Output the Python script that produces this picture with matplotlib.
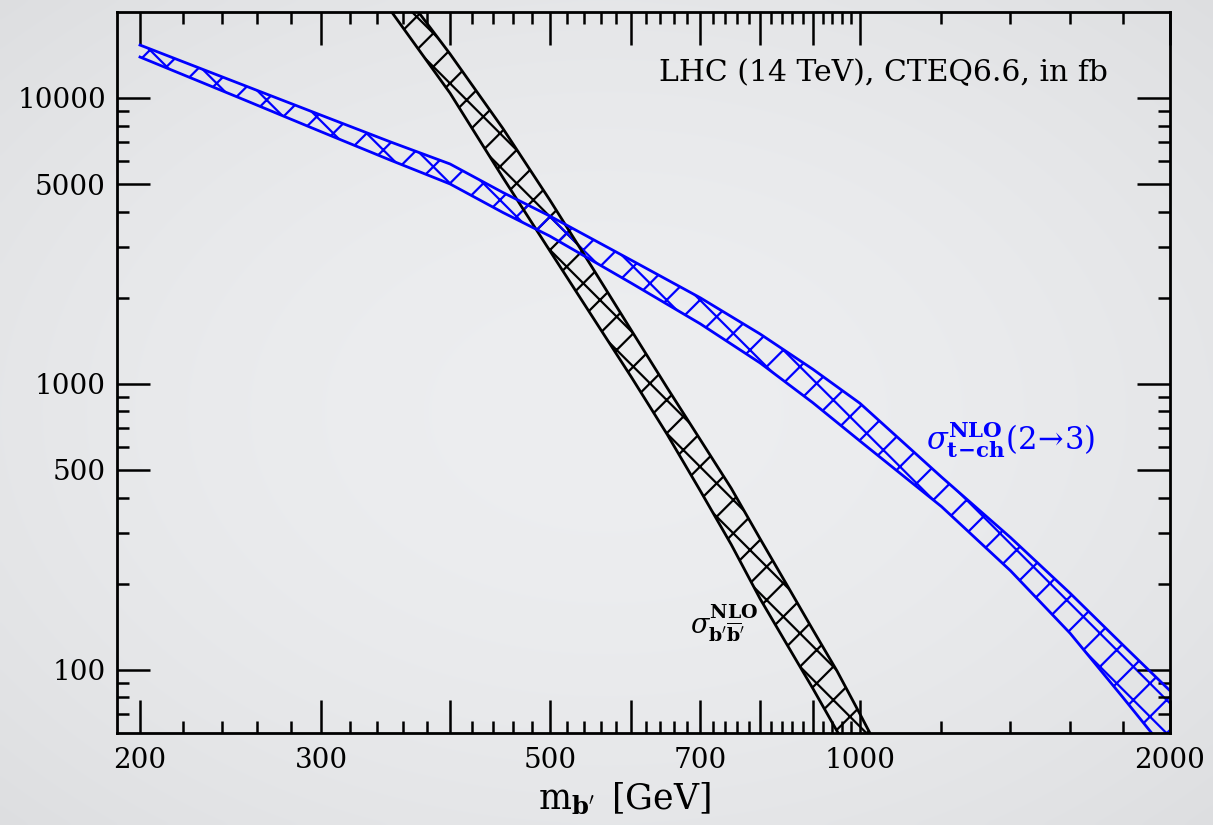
import numpy as np
import matplotlib.pyplot as plt
from matplotlib.ticker import FixedLocator, FixedFormatter, NullFormatter

plt.rcParams['font.family'] = 'DejaVu Serif'
plt.rcParams['mathtext.fontset'] = 'dejavuserif'
plt.rcParams['hatch.linewidth'] = 1.6

# b'b'bar pair production, NLO band (fb)
m_pair = [350, 400, 450, 500, 550, 600, 650, 700, 750, 800, 850, 900, 950, 1000, 1050]
pair_lo = [20300, 10400, 5280, 2920, 1715, 1055, 665, 422, 274, 177, 122, 86, 61, 44, 32]
pair_hi = [27000, 14260, 7840, 4395, 2544, 1537, 968, 637, 431, 287, 197, 138, 99, 70, 50]

# single b' t-channel (2->3), NLO band (fb)
m_tch = [200, 250, 300, 350, 400, 450, 500, 600, 700, 800, 900, 1000, 1200, 1400, 1600, 1800, 2000]
tch_hi = [15320, 11220, 8700, 7023, 5877, 4674, 3863, 2706, 1999, 1494, 1125, 855, 472, 290, 185, 122, 84.4]
tch_lo = [13910, 10000, 7615, 6063, 5004, 3978, 3287, 2249, 1621, 1183, 859, 631, 372, 222, 134, 80, 50]

xticks_major = [200, 300, 400, 500, 600, 700, 800, 900, 1000, 2000]
xtick_labels = ['200', '300', '', '500', '', '700', '', '', '1000', '2000']
yticks_major = [100, 500, 1000, 5000, 10000]
ytick_labels = ['100', '500', '1000', '5000', '10000']

fig = plt.figure(figsize=(12.13, 8.25), dpi=100)

# soft vignette background
bgax = fig.add_axes([0, 0, 1, 1], zorder=-1)
yy, xx = np.mgrid[-1:1:200j, -1:1:300j]
r = np.sqrt(xx ** 2 + yy ** 2) / np.sqrt(2)
shade = 0.94 - 0.06 * r ** 2
bgax.imshow(np.dstack([shade - 0.012, shade - 0.008, shade]), extent=[0, 1, 0, 1],
            aspect='auto', interpolation='bicubic')
bgax.axis('off')

ax = fig.add_axes([0.0965, 0.1115, 0.868, 0.874])
ax.patch.set_alpha(0)


def band(ax, m, lo, hi, color):
    ax.fill_between(m, lo, hi, facecolor='none', edgecolor=color, hatch='x', linewidth=0)
    ax.plot(m, lo, color=color, lw=2.0)
    ax.plot(m, hi, color=color, lw=2.0)


band(ax, m_pair, pair_lo, pair_hi, 'black')
band(ax, m_tch, tch_lo, tch_hi, '#0000ff')

ax.set_xscale('log')
ax.set_yscale('log')
ax.set_xlim(190, 2000)
ax.set_ylim(60, 20000)

ax.xaxis.set_major_locator(FixedLocator(xticks_major))
ax.xaxis.set_major_formatter(FixedFormatter(xtick_labels))
xminor = [v for v in range(220, 1000, 20) if v % 100 != 0] + [1200, 1400, 1600, 1800]
ax.xaxis.set_minor_locator(FixedLocator(xminor))
ax.xaxis.set_minor_formatter(NullFormatter())

ax.yaxis.set_major_locator(FixedLocator(yticks_major))
ax.yaxis.set_major_formatter(FixedFormatter(ytick_labels))
yminor = [70, 80, 90, 200, 300, 400, 600, 700, 800, 900,
          2000, 3000, 4000, 6000, 7000, 8000, 9000]
ax.yaxis.set_minor_locator(FixedLocator(yminor))
ax.yaxis.set_minor_formatter(NullFormatter())

ax.tick_params(which='both', direction='in', top=True, right=True, width=1.8, labelsize=20)
ax.tick_params(which='major', length=24)
ax.tick_params(which='minor', length=8.5)
ax.tick_params(axis='y', pad=8)
ax.tick_params(axis='x', pad=10)
for s in ax.spines.values():
    s.set_linewidth(2.0)

ax.set_xlabel(r"$\mathrm{m}_{\mathbf{b'}}\,$ [GeV]", fontsize=25)
ax.xaxis.set_label_coords(0.482, -0.066)

ax.text(0.941, 0.915, 'LHC (14 TeV), CTEQ6.6, in fb', transform=ax.transAxes,
        ha='right', va='center', fontsize=21.5)
ax.text(738, 145, r"$\sigma^{\mathbf{NLO}}_{\mathbf{b'\overline{b}'}}$", ha='center', va='center',
        fontsize=19.5, color='black')
ax.text(1400, 640, r"$\sigma^{\mathbf{NLO}}_{\mathbf{t\!-\!ch}}(2\!\rightarrow\!3)$",
        ha='center', va='center', fontsize=22, color='#0000ff')

fig.savefig('out.png', dpi=100)
